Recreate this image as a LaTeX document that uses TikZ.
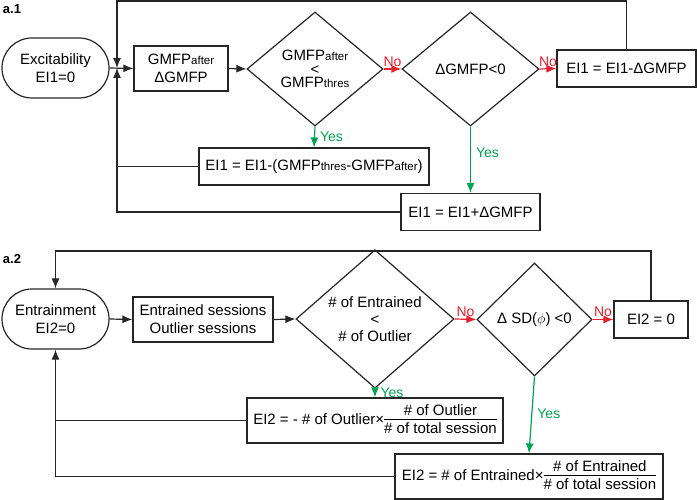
\documentclass[tikz,border=0pt]{standalone}
\usepackage{fontspec}
\setmainfont{Liberation Sans}
\usepackage{tikz}
\usetikzlibrary{shapes.geometric,shapes.misc,arrows.meta}
\usepackage{xcolor}
\definecolor{nored}{RGB}{232,32,45}
\definecolor{yesgreen}{RGB}{0,163,80}
\colorlet{linegray}{black!85}
\newcommand{\mainfnt}{\fontsize{15}{18}\selectfont}
\newcommand{\lblfnt}{\fontsize{14}{16}\selectfont}
\newcommand{\fracfnt}{\fontsize{15}{16}\selectfont}
\newcommand{\sm}[1]{{\fontsize{11.5}{13}\selectfont #1}}
\newcommand{\frc}[2]{{\setlength{\arrayrulewidth}{0.8pt}\renewcommand{\arraystretch}{1.05}%
  \begin{tabular}{@{}c@{}}\fracfnt #1\\[-2pt]\hline\fracfnt #2\end{tabular}}}
\tikzset{
    startsty/.style={draw=linegray,rounded rectangle,minimum width=109pt,minimum height=60pt,align=center,inner sep=1pt,font=\mainfnt},
    boxsty/.style={draw=linegray,rectangle,align=center,inner sep=2pt,font=\mainfnt},
    decsty/.style={draw=linegray,diamond,align=center,inner sep=0pt,font=\mainfnt},
    linesty/.style={draw=linegray,line width=1.2pt},
    nosty/.style={linesty,draw=nored,->},
    yessty/.style={linesty,draw=yesgreen,->},
    nolblsty/.style={text=nored,font=\lblfnt,inner sep=2pt},
    yeslblsty/.style={text=yesgreen,font=\lblfnt,inner sep=5pt},
    titlesty/.style={font=\fontsize{13}{15}\selectfont\bfseries,inner sep=0pt},
}

\begin{document}
\begin{tikzpicture}[x=1pt,y=-1pt,>={Latex[length=10pt,width=8pt]},line width=1.2pt]
  \useasboundingbox (0,0) rectangle (697,500);

  % a.1
  \node[titlesty] (ttla) at (12,9) {a.1};
  \node[startsty] (start1) at (55.5,68) {Excitability\\EI1=0};
  \node[boxsty,minimum width=94pt,minimum height=45pt] (gmfp) at (181,68.5) {GMFP\sm{after}\\ΔGMFP};
  \node[decsty,minimum width=136pt,minimum height=114pt] (dec1) at (315,69) {GMFP\sm{after}\\[-4.5pt]<\\[-4.5pt]GMFP\sm{thres}};
  \node[decsty,minimum width=137pt,minimum height=114pt] (dec2) at (470.5,69) {ΔGMFP<0};
  \node[boxsty,minimum width=139pt,minimum height=37pt] (ei1c) at (626.5,68.5) {EI1 = EI1-ΔGMFP};
  \node[boxsty,minimum width=230pt,minimum height=37pt] (ei1a) at (314,166.5) {EI1 = EI1-(GMFP\sm{thres}-GMFP\sm{after})};
  \node[boxsty,minimum width=139pt,minimum height=37pt] (ei1b) at (470.5,212) {EI1 = EI1+ΔGMFP};
  \coordinate (jn1) at (117,68);
  \coordinate (top1) at (117,1);

  \draw[linesty,->] (start1.east) -- (gmfp.west);
  \draw[linesty,->] (gmfp.east) -- (dec1.west);
  \draw[nosty] (dec1.east) -- node[above,nolblsty] (no1) {No} (dec2.west);
  \draw[nosty] (dec2.east) -- node[above,nolblsty] (no2) {No} (ei1c.west);
  \draw[yessty] (dec1.south) -- node[right,yeslblsty] (yes1) {Yes} (ei1a.north);
  \draw[yessty] (dec2.south) -- node[pos=0.4,right,yeslblsty] (yes2) {Yes} (ei1b.north);
  \draw[linesty,->] (ei1c.north) |- (top1) -- (jn1);
  \draw[linesty] (ei1a.west) -- (ei1a.west -| jn1);
  \draw[linesty,->] (ei1b.west) -| (jn1);

  % a.2
  \node[titlesty] (ttlb) at (12,259) {a.2};
  \node[startsty] (start2) at (55.5,319) {Entrainment\\EI2=0};
  \node[boxsty,minimum width=140pt,minimum height=45pt] (sess) at (203,319.5) {Entrained sessions\\Outlier sessions};
  \node[decsty,minimum width=158pt,minimum height=114pt] (dec3) at (375,319) {\# of Entrained\\[-1pt]<\\[-1pt]\# of Outlier};
  \node[decsty,minimum width=115pt,minimum height=113pt] (dec4) at (534.5,319.5) {Δ SD(\ensuremath{\phi}) <0};
  \node[boxsty,minimum width=74pt,minimum height=37pt] (ei2z) at (651,319.5) {EI2 = 0};
  \node[boxsty,minimum width=256pt,minimum height=45pt] (ei2a) at (375,420.5) {EI2 = - \# of Outlier×\frc{\# of Outlier}{\# of total session}};
  \node[boxsty,minimum width=268pt,minimum height=45pt] (ei2b) at (529,476.5) {EI2 = \# of Entrained×\frc{\# of Entrained}{\# of total session}};
  \coordinate (top2) at (55.5,251);

  \draw[linesty,->] (start2.east) -- (sess.west);
  \draw[linesty,->] (sess.east) -- (dec3.west);
  \draw[nosty] (dec3.east) -- node[above,nolblsty] (no3) {No} (dec4.west);
  \draw[nosty] (dec4.east) -- node[above,nolblsty] (no4) {No} (ei2z.west);
  \draw[yessty] (dec3.south) -- node[right,yeslblsty] (yes3) {Yes} (ei2a.north);
  \draw[yessty] (dec4.south) -- node[pos=0.49,right,yeslblsty] (yes4) {Yes} (ei2b.north);
  \draw[linesty,->] (ei2z.north) |- (top2) -- (start2.north);
  \draw[linesty] (ei2a.west) -- (ei2a.west -| start2.south);
  \draw[linesty,->] (ei2b.west) -| (start2.south);
\end{tikzpicture}
\end{document}
